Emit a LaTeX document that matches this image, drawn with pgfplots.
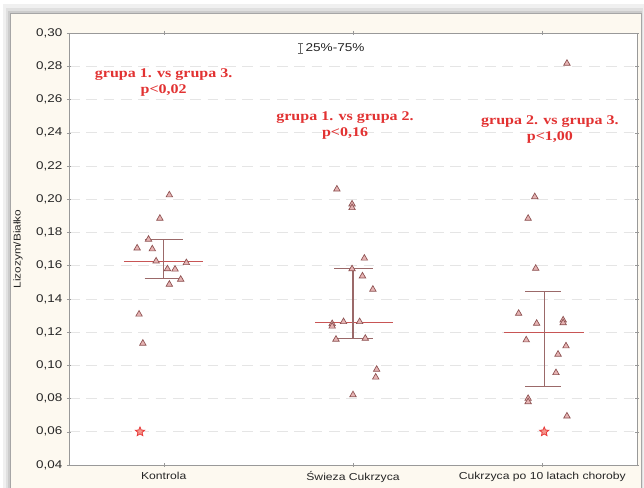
\documentclass[border=0pt]{standalone}
\usepackage{fontspec}
\setmainfont{Liberation Sans}[FakeStretch=1.2]
\newfontfamily\annfont{Liberation Serif}[FakeStretch=1.2]
\usepackage{pgfplots}
\pgfplotsset{compat=1.18}
\definecolor{cream}{RGB}{253,249,240}
\definecolor{tridraw}{RGB}{140,80,80}
\definecolor{trifill}{RGB}{230,180,180}
\definecolor{medc}{RGB}{200,85,85}
\definecolor{whc}{RGB}{155,105,105}
\definecolor{annred}{RGB}{226,50,50}
\definecolor{starred}{RGB}{232,60,60}
\definecolor{starfill}{RGB}{245,150,140}
\pgfdeclareplotmark{fstar}{%
  \pgfpathmoveto{\pgfpointpolar{90}{\pgfplotmarksize}}%
  \pgfpathlineto{\pgfpointpolar{126}{0.45\pgfplotmarksize}}%
  \pgfpathlineto{\pgfpointpolar{162}{\pgfplotmarksize}}%
  \pgfpathlineto{\pgfpointpolar{198}{0.45\pgfplotmarksize}}%
  \pgfpathlineto{\pgfpointpolar{234}{\pgfplotmarksize}}%
  \pgfpathlineto{\pgfpointpolar{270}{0.45\pgfplotmarksize}}%
  \pgfpathlineto{\pgfpointpolar{306}{\pgfplotmarksize}}%
  \pgfpathlineto{\pgfpointpolar{342}{0.45\pgfplotmarksize}}%
  \pgfpathlineto{\pgfpointpolar{18}{\pgfplotmarksize}}%
  \pgfpathlineto{\pgfpointpolar{54}{0.45\pgfplotmarksize}}%
  \pgfpathclose
  \pgfusepathqfillstroke}
\begin{document}
\begin{tikzpicture}[x=0.75pt,y=0.75pt]
\useasboundingbox (0,0) rectangle (644,488);
\fill[white] (0,0) rectangle (644,488);
\fill[black!6] (3,0) rectangle (644,484);
\fill[black!12] (6,0) rectangle (643,480);
\fill[black!20] (8,0) rectangle (642,477);
\fill[cream,draw=black!35,line width=0.6pt] (10,-2) rectangle (641,475);
\begin{axis}[
  at={(51.75pt,17.25pt)}, anchor=south west,
  scale only axis, width=426pt, height=324pt,
  xmin=0.5, xmax=3.5, ymin=0.04, ymax=0.30,
  axis background/.style={fill=white},
  axis line style={black!40},
  xtick={1,2,3},
  xticklabels={Kontrola, Świeza Cukrzyca, Cukrzyca po 10 latach choroby},
  ytick={0.04,0.06,0.08,0.10,0.12,0.14,0.16,0.18,0.20,0.22,0.24,0.26,0.28,0.30},
  tick align=center, major tick length=3pt,
  tick style={black!40},
  yticklabel style={font=\fontsize{8.4}{9}\selectfont, text=black!85},
  xticklabel style={font=\fontsize{7.6}{9}\selectfont, text=black!85},
  /pgf/number format/fixed, /pgf/number format/fixed zerofill, /pgf/number format/precision=2, /pgf/number format/use comma, /pgf/number format/assume math mode=true,
  ymajorgrids, grid style={black!10, dash pattern=on 8pt off 5pt},
  ylabel={Lizozym/Białko},
  ylabel style={at={(axis description cs:0,0.5)}, anchor=center, yshift=38.25pt, font=\fontsize{7.4}{9}\selectfont, text=black!85},
  legend style={at={(0.402,0.965)}, anchor=west, draw=none, fill=none, inner sep=0pt, font=\fontsize{8.5}{9}\selectfont, text=black!85},
  legend image code/.code={\draw[black!60, line width=0.6pt] (0.1cm,-0.13cm) -- (0.1cm,0.13cm) (0.04cm,-0.13cm) -- (0.16cm,-0.13cm) (0.04cm,0.13cm) -- (0.16cm,0.13cm);},
]
\addlegendimage{black}
\addlegendentry{25\%-75\%}
% group 1 box
\addplot[medc, line width=0.8pt, forget plot] coordinates {(0.79,0.1627) (1.21,0.1627)};
\addplot[whc, line width=0.8pt, forget plot] coordinates {(0.90,0.1758) (1.10,0.1758)};
\addplot[whc, line width=0.8pt, forget plot] coordinates {(0.90,0.1523) (1.10,0.1523)};
\addplot[whc, line width=0.8pt, forget plot] coordinates {(1.0,0.1523) (1.0,0.1758)};
% group 2 box
\addplot[medc, line width=0.8pt, forget plot] coordinates {(1.80,0.1257) (2.21,0.1257)};
\addplot[whc, line width=0.8pt, forget plot] coordinates {(1.90,0.1580) (2.105,0.1580)};
\addplot[whc, line width=0.8pt, forget plot] coordinates {(1.90,0.1163) (2.105,0.1163)};
\addplot[whc, line width=0.8pt, forget plot] coordinates {(2.0,0.1163) (2.0,0.1580)};
% group 3 box
\addplot[medc, line width=0.8pt, forget plot] coordinates {(2.80,0.1198) (3.22,0.1198)};
\addplot[whc, line width=0.8pt, forget plot] coordinates {(2.91,0.1443) (3.10,0.1443)};
\addplot[whc, line width=0.8pt, forget plot] coordinates {(2.91,0.0871) (3.10,0.0871)};
\addplot[whc, line width=0.8pt, forget plot] coordinates {(3.01,0.0871) (3.01,0.1443)};
% points
\addplot[only marks, mark=triangle*, mark size=2.8pt, mark options={draw=tridraw, fill=trifill, line width=0.5pt}, forget plot] coordinates {
(1.03,0.2025) (0.98,0.1884) (0.92,0.1758) (0.86,0.1705) (0.94,0.1700) (0.96,0.1627) (1.12,0.1617)
(1.02,0.1580) (1.06,0.1578) (1.09,0.1517) (1.03,0.1487) (0.87,0.1307) (0.89,0.1132)
(1.915,0.2060) (1.995,0.1970) (1.995,0.1948) (2.06,0.1644) (1.995,0.1580) (2.05,0.1537) (2.105,0.1457)
(1.95,0.1262) (2.035,0.1262) (1.89,0.1250) (1.89,0.1235) (1.91,0.1156) (2.065,0.1162)
(2.125,0.0975) (2.12,0.0928) (2.0,0.0822)
(3.13,0.2817) (2.96,0.2014) (2.925,0.1884) (2.965,0.1583) (2.875,0.1312) (2.97,0.1252)
(3.11,0.1272) (3.11,0.1255) (2.915,0.1152) (3.125,0.1116) (3.083,0.1066) (3.072,0.0955)
(2.925,0.0800) (2.925,0.0780) (3.13,0.0694)
};
\addplot[only marks, mark=fstar, mark size=3.6pt, mark options={draw=starred, fill=starfill, line width=0.6pt}, forget plot] coordinates {(0.875,0.06) (3.01,0.06)};
% annotations
\node[annred, align=center, font=\annfont\bfseries\fontsize{10}{12}\selectfont] at (axis cs:1.0,0.2705) {grupa 1. vs grupa 3.\\p<0,02};
\node[annred, align=center, font=\annfont\bfseries\fontsize{10}{12}\selectfont] at (axis cs:1.958,0.2445) {grupa 1. vs grupa 2.\\p<0,16};
\node[annred, align=center, font=\annfont\bfseries\fontsize{10}{12}\selectfont] at (axis cs:3.04,0.2420) {grupa 2. vs grupa 3.\\p<1,00};
\end{axis}
\end{tikzpicture}
\end{document}
